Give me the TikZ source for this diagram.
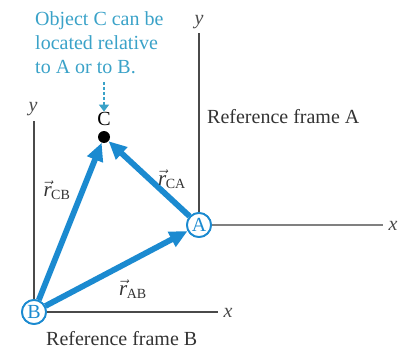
\documentclass[tikz,border=0pt]{standalone}
\usepackage{fontspec}
\setmainfont{Liberation Serif}
\usetikzlibrary{arrows.meta}
\definecolor{vblue}{HTML}{1B8AD0}
\definecolor{tealtxt}{HTML}{3AA2C8}
\definecolor{axisgray}{HTML}{4A4A4A}
\newcommand{\rvec}[1]{$\vec{\mbox{\itshape r}}$\kern-0.5pt\textsubscript{\fontsize{14}{14}\selectfont #1}}
\tikzset{
  vec/.style={vblue, line width=5.8pt, -{Triangle[length=18pt,width=16pt]}},
  axis/.style={axisgray, line width=1.3pt},
  origin/.style={circle, draw=vblue, line width=1.8pt, fill=white, minimum size=24pt, inner sep=0pt, text=vblue, font=\fontsize{20}{20}\selectfont},
  lbl/.style={font=\fontsize{20}{24}\selectfont, inner sep=0pt},
  axlbl/.style={font=\fontsize{20}{24}\selectfont\itshape, inner sep=0pt, axisgray},
  vlbl/.style={font=\fontsize{21}{24}\selectfont, inner sep=0pt, text=black!80},
}
\begin{document}
\begin{tikzpicture}[x=1pt, y=-1pt]
\useasboundingbox (0,0) rectangle (401,350);
% origins
\node[origin] (A) at (199,225) {A};
\node[origin] (B) at (34,312) {B};
% axis end points
\coordinate (Ay) at (199,33);
\coordinate (Ax) at (383,225);
\coordinate (By) at (34,121);
\coordinate (Bx) at (218,312);
\draw[axis] (A.north) -- (Ay);
\draw[axis, axisgray!70] (A.east) -- (Ax);
\draw[axis] (B.north) -- (By);
\draw[axis] (B.east) -- (Bx);
\node[axlbl, anchor=base] (Aylab) at (199,25) {y};
\node[axlbl, anchor=base] (Axlab) at (393,230) {x};
\node[axlbl, anchor=base] (Bylab) at (33,111) {y};
\node[axlbl, anchor=base] (Bxlab) at (228,317) {x};
% object C
\node[circle, fill=black, minimum size=12pt, inner sep=0pt] (C) at (104,137) {};
\node[lbl, anchor=base] (Clab) at (104,125) {C};
% vectors
\draw[vec] (B) -- (C);
\draw[vec] (A) -- (C);
\draw[vec] (B) -- (A);
\node[origin] at (A) {A};
\node[origin] at (B) {B};
% vector labels
\node[vlbl] (rCB) at (57,190) {\rvec{CB}};
\node[vlbl] (rCA) at (172,179) {\rvec{CA}};
\node[vlbl] (rAB) at (133,289) {\rvec{AB}};
% frame labels
\node[lbl, anchor=base west, text=black!80] (fA) at (207,124) {Reference frame A};
\node[lbl, anchor=base west, text=black!80] (fB) at (46,345) {Reference frame B};
% note
\node[lbl, anchor=base west, text=tealtxt] (n1) at (35,26) {Object C can be};
\node[lbl, anchor=base west, text=tealtxt] (n2) at (35,50) {located relative};
\node[lbl, anchor=base west, text=tealtxt] (n3) at (35,74) {to A or to B.};
\coordinate (dtop) at (104,82);
\draw[tealtxt, line width=2.8pt, dash pattern=on 3pt off 2pt, -{Triangle[length=7pt,width=10pt]}] (dtop) -- (Clab.north);
\end{tikzpicture}
\end{document}
